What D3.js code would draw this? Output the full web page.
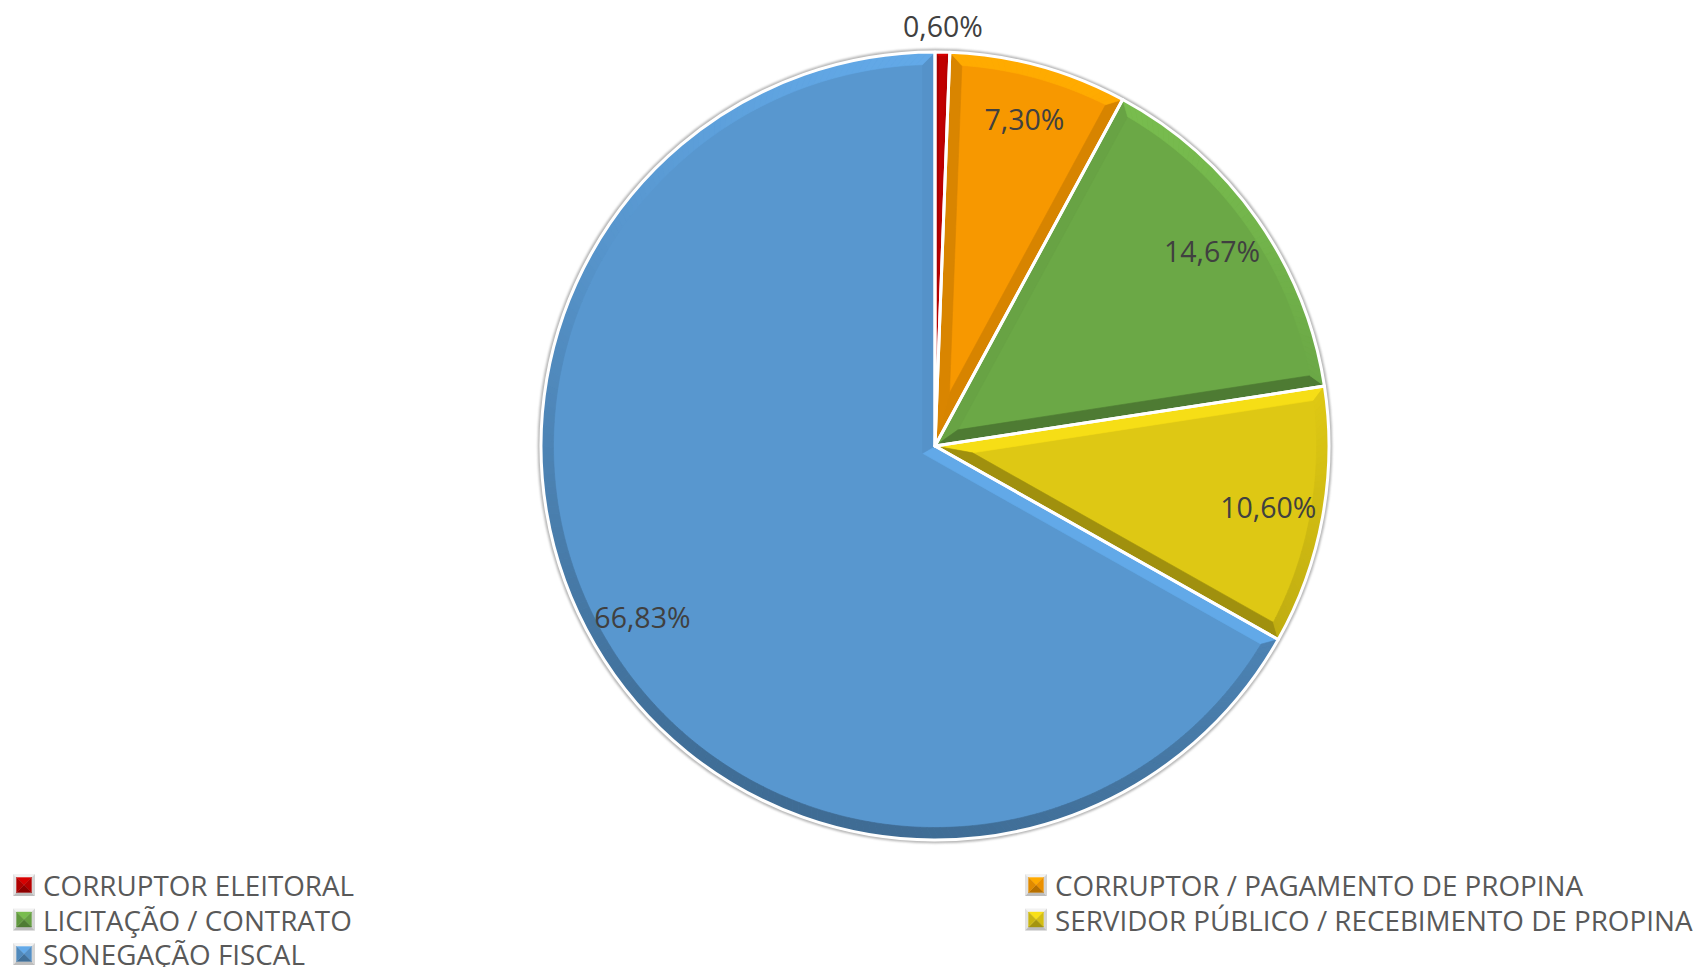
<!DOCTYPE html>
<html>
<head>
<meta charset="utf-8">
<script src="https://cdn.jsdelivr.net/npm/d3@7"></script>
<style>
  body { margin: 0; background: #fff; }
  svg { display: block; }
</style>
</head>
<body>
<svg id="chart"></svg>
<script>
// data (percent)
var categories = ["CORRUPTOR ELEITORAL", "CORRUPTOR / PAGAMENTO DE PROPINA", "LICITAÇÃO / CONTRATO",
                  "SERVIDOR PÚBLICO / RECEBIMENTO DE PROPINA", "SONEGAÇÃO FISCAL"];
var values = [0.60, 7.30, 14.67, 10.60, 66.83];
var colors = ["#c00000", "#f79800", "#6ba846", "#dec814", "#5897cf"];

var make_pie_chart = function () {

    var width = 1695, height = 967;
    var cx = 935, cy = 446, radius = 394;
    var bevel = 12.5;
    var fontFamily = "'Open Sans', 'Noto Sans', sans-serif";

    var ptBR = d3.formatLocale({ decimal: ",", thousands: ".", grouping: [3], currency: ["R$", ""] });
    var fmt = ptBR.format(".2f");

    var svg = d3.select("#chart")
        .attr("width", width)
        .attr("height", height)
        .attr("viewBox", [0, 0, width, height]);

    var defs = svg.append("defs");
    defs.append("filter").attr("id", "soft")
        .attr("x", "-10%").attr("y", "-10%").attr("width", "120%").attr("height", "120%")
        .append("feGaussianBlur").attr("stdDeviation", 1.3);

    // lighting: light from the top, slightly right
    var shade = function (base, nx, ny) {
        var f = 0.92 - 0.2 * ny + 0.05 * nx;
        var c = d3.rgb(base);
        return d3.rgb(Math.min(255, c.r * f), Math.min(255, c.g * f), Math.min(255, c.b * f)).formatHex();
    };

    var pt = (a, r) => [r * Math.sin(a), -r * Math.cos(a)];

    var pie = d3.pie().sort(null).value(d => d);
    var arcs = pie(values);

    var arc = d3.arc().innerRadius(0).outerRadius(radius);
    var labelArc = d3.arc().innerRadius(radius * 0.72).outerRadius(radius);

    var g = svg.append("g").attr("transform", `translate(${cx},${cy})`);

    // soft grey shadow rim
    g.append("circle")
        .attr("r", radius + 1.5)
        .attr("fill", "none")
        .attr("stroke", "#b4b4b4")
        .attr("stroke-width", 3.5)
        .attr("filter", "url(#soft)");

    arcs.forEach(function (d, i) {
        var base = colors[i];
        var a0 = d.startAngle, a1 = d.endAngle;
        var h = (a1 - a0) / 2;
        var s = Math.sin(Math.min(h, Math.PI / 2));
        var bw = Math.min(bevel, 0.5 * radius * s / (1 + s));
        var apex = pt((a0 + a1) / 2, bw / Math.sin(h));
        var dl = Math.asin(bw / (radius - bw));

        var sg = g.append("g");

        sg.append("path")
            .attr("d", arc(d))
            .attr("fill", base);

        var quads = [];
        // radial edges
        quads.push({ p: [[0, 0], pt(a0, radius), pt(a0 + dl, radius - bw), apex],
                     c: shade(base, -Math.cos(a0), -Math.sin(a0)) });
        quads.push({ p: [[0, 0], pt(a1, radius), pt(a1 - dl, radius - bw), apex],
                     c: shade(base, Math.cos(a1), Math.sin(a1)) });
        // outer arc, in small steps
        var n = Math.max(2, Math.ceil((a1 - a0) / (Math.PI / 180)));
        for (var k = 0; k < n; k++) {
            var t0 = k / n, t1 = (k + 1) / n;
            var o0 = a0 + (a1 - a0) * t0, o1 = a0 + (a1 - a0) * t1;
            var i0 = a0 + dl + (a1 - a0 - 2 * dl) * t0, i1 = a0 + dl + (a1 - a0 - 2 * dl) * t1;
            var am = (o0 + o1) / 2;
            quads.push({ p: [pt(o0, radius), pt(o1, radius), pt(i1, radius - bw), pt(i0, radius - bw)],
                         c: shade(base, Math.sin(am), -Math.cos(am)) });
        }

        sg.selectAll("path.bevel")
            .data(quads)
            .join("path")
            .attr("class", "bevel")
            .attr("d", q => "M" + q.p.join("L") + "Z")
            .attr("fill", q => q.c)
            .attr("stroke", q => q.c)
            .attr("stroke-width", 0.6)
            .attr("stroke-linejoin", "round");
    });

    // white separators
    g.append("g")
        .selectAll("path")
        .data(arcs)
        .join("path")
        .attr("d", arc)
        .attr("fill", "none")
        .attr("stroke", "#fff")
        .attr("stroke-width", 3)
        .attr("stroke-linejoin", "round");

    // data labels
    g.append("g")
        .selectAll("text")
        .data(arcs)
        .join("text")
        .attr("transform", function (d) {
            if (d.data < 2) {
                var p = pt((d.startAngle + d.endAngle) / 2, radius + 26);
                return `translate(${p[0]},${p[1]})`;
            }
            return `translate(${labelArc.centroid(d)})`;
        })
        .attr("text-anchor", "middle")
        .attr("dominant-baseline", "central")
        .attr("font-family", fontFamily)
        .attr("font-size", 28.5)
        .attr("fill", "#404040")
        .text(d => fmt(d.data) + "%");

    // legend, two columns, row by row
    var colX = [13, 1025], rowY = [885, 919.5, 954], box = 22, inner = 15;

    var legend = svg.append("g")
        .selectAll("g")
        .data(categories)
        .join("g")
        .attr("transform", (d, i) => `translate(${colX[i % 2]},${rowY[Math.floor(i / 2)]})`);

    var y0 = -box / 2, b = (box - inner) / 2;
    var frame = [
        { p: [[0, y0], [box, y0], [box - b, y0 + b], [b, y0 + b]], c: "#f2f2f2" },
        { p: [[0, y0], [b, y0 + b], [b, y0 + box - b], [0, y0 + box]], c: "#e2e2e2" },
        { p: [[box, y0], [box, y0 + box], [box - b, y0 + box - b], [box - b, y0 + b]], c: "#d4d4d4" },
        { p: [[0, y0 + box], [b, y0 + box - b], [box - b, y0 + box - b], [box, y0 + box]], c: "#bdbdbd" }
    ];
    legend.selectAll("path.frame")
        .data(frame)
        .join("path")
        .attr("class", "frame")
        .attr("d", q => "M" + q.p.join("L") + "Z")
        .attr("fill", q => q.c);

    var m = [box / 2, 0];
    var tl = [b, y0 + b], tr = [box - b, y0 + b], br = [box - b, y0 + box - b], bl = [b, y0 + box - b];
    legend.each(function (d, i) {
        var base = colors[i];
        var faces = [
            { p: [tl, tr, m], c: shade(base, 0, -1) },
            { p: [tr, br, m], c: shade(base, 0.6, 0) },
            { p: [br, bl, m], c: shade(base, 0, 0.9) },
            { p: [bl, tl, m], c: shade(base, -0.3, 0) }
        ];
        d3.select(this).selectAll("path.face")
            .data(faces)
            .join("path")
            .attr("class", "face")
            .attr("d", q => "M" + q.p.join("L") + "Z")
            .attr("fill", q => q.c)
            .attr("stroke", q => q.c)
            .attr("stroke-width", 0.4);
    });

    legend.append("text")
        .attr("x", box + 8)
        .attr("y", 0)
        .attr("dominant-baseline", "central")
        .attr("font-family", fontFamily)
        .attr("font-size", 27.8)
        .attr("fill", "#595959")
        .text(d => d);
};

make_pie_chart();
</script>
</body>
</html>
